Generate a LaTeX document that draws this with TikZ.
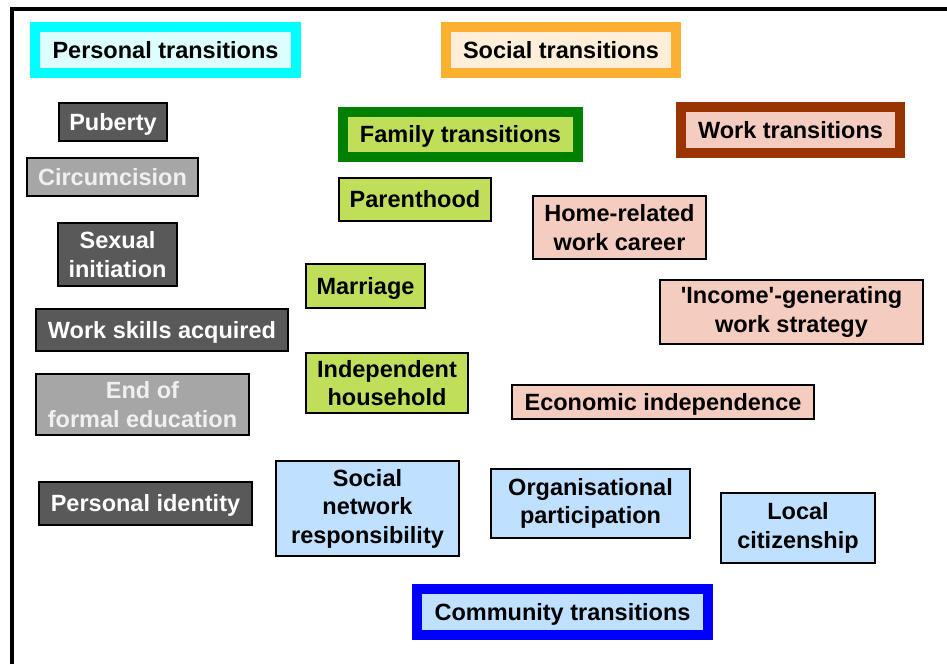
\documentclass[tikz,border=0pt]{standalone}
\usepackage{fontspec}
\setmainfont{Liberation Sans}[Ligatures=TeXOff]

\definecolor{darkbox}{HTML}{595959}
\definecolor{lightbox}{HTML}{A6A6A6}
\definecolor{famfill}{HTML}{BFDF5A}
\definecolor{workfill}{HTML}{F4CCC0}
\definecolor{commfill}{HTML}{C0E0FF}
\definecolor{persfill}{HTML}{DCFEFE}
\definecolor{persline}{HTML}{00FFFF}
\definecolor{socfill}{HTML}{FFEED8}
\definecolor{socline}{HTML}{FBB030}
\definecolor{famline}{HTML}{008000}
\definecolor{workline}{HTML}{993300}
\definecolor{commline}{HTML}{0000FF}

\tikzset{
    item/.style={draw=black, line width=1.5pt, inner sep=0pt, align=center,
        font=\bfseries\fontsize{23.5}{28.5}\selectfont},
    oneline/.style={text height=21pt, text depth=5pt},
    dark/.style={item, fill=darkbox, text=white},
    light/.style={item, fill=lightbox, text=white!94!black},
    family/.style={item, fill=famfill},
    work/.style={item, fill=workfill},
    comm/.style={item, fill=commfill},
    head/.style={item, oneline, line width=10pt},
}

\begin{document}
\begin{tikzpicture}[x=1pt,y=-1pt]
    \useasboundingbox (0,0) rectangle (947,664);
    % frame
    \draw[line width=4pt] (12,664) -- (12,9) -- (947,9);

    % group headings
    \node[head, draw=persline, fill=persfill, minimum width=261pt, minimum height=46pt] (personal) at (165.5,50) {Personal transitions};
    \node[head, draw=socline, fill=socfill, minimum width=230pt, minimum height=46pt] (social) at (561,50) {Social transitions};
    \node[head, draw=famline, fill=famfill, minimum width=235pt, minimum height=45pt] (family) at (460.5,134.5) {Family transitions};
    \node[head, draw=workline, fill=workfill, minimum width=219pt, minimum height=46pt] (work) at (790.5,130) {Work transitions};
    \node[head, draw=commline, fill=commfill, minimum width=291pt, minimum height=46pt] (community) at (562.5,612) {Community transitions};

    % personal
    \node[dark, oneline, minimum width=108pt, minimum height=38pt] (puberty) at (113,122) {Puberty};
    \node[light, oneline, minimum width=171pt, minimum height=38pt] (circ) at (112.5,177) {Circumcision};
    \node[dark, minimum width=119pt, minimum height=63pt] (sexual) at (117.5,254.5) {Sexual\\initiation};
    \node[dark, oneline, minimum width=252pt, minimum height=42pt] (skills) at (162,330) {Work skills acquired};
    \node[light, minimum width=213pt, minimum height=61pt] (school) at (142.5,404.5) {End of\\formal education};
    \node[dark, oneline, minimum width=213pt, minimum height=43pt] (identity) at (145.5,503.5) {Personal identity};

    % family
    \node[family, oneline, minimum width=152pt, minimum height=43pt] (parent) at (415,199.5) {Parenthood};
    \node[family, oneline, minimum width=119pt, minimum height=44pt] (marriage) at (365.5,286) {Marriage};
    \node[family, minimum width=162pt, minimum height=60pt] (household) at (387,383) {Independent\\household};

    % work
    \node[work, minimum width=173pt, minimum height=63pt] (home) at (619.5,227.5) {Home-related\\work career};
    \node[work, minimum width=263pt, minimum height=64pt] (income) at (791.5,312) {'Income'-generating\\work strategy};
    \node[work, oneline, minimum width=302pt, minimum height=34pt] (econ) at (663,402) {Economic independence};

    % community
    \node[comm, minimum width=183pt, minimum height=95pt] (network) at (367.5,508.5) {Social\\network\\responsibility};
    \node[comm, minimum width=199pt, minimum height=69pt] (org) at (590.5,503.5) {Organisational\\participation};
    \node[comm, minimum width=154pt, minimum height=70pt] (local) at (798,528) {Local\\citizenship};
\end{tikzpicture}
\end{document}
